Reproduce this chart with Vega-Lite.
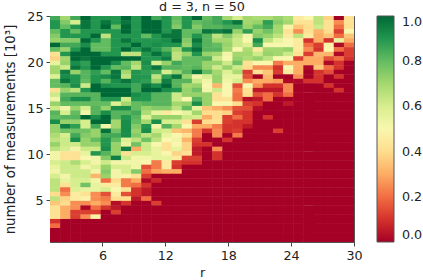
{"$schema":"https://vega.github.io/schema/vega-lite/v6.json","width":304,"height":226,"autosize":{"type":"none"},"padding":{"left":50,"top":16,"right":69,"bottom":38},"background":"white","title":{"text":"d = 3, n = 50","fontSize":12.7,"font":"DejaVu Sans","fontWeight":"normal","color":"#222","anchor":"middle","offset":-4},"config":{"view":{"stroke":"#555","strokeWidth":1}},
"data":{"values":[
{"r":1,"m":25,"v":0.85},{"r":2,"m":25,"v":0.7},{"r":3,"m":25,"v":0.85},{"r":4,"m":25,"v":1},{"r":5,"m":25,"v":0.9},{"r":6,"m":25,"v":0.9},{"r":7,"m":25,"v":0.9},{"r":8,"m":25,"v":1},{"r":9,"m":25,"v":0.9},{"r":10,"m":25,"v":1},{"r":11,"m":25,"v":0.85},{"r":12,"m":25,"v":0.9},{"r":13,"m":25,"v":0.8},{"r":14,"m":25,"v":0.9},{"r":15,"m":25,"v":1},{"r":16,"m":25,"v":0.8},{"r":17,"m":25,"v":0.85},{"r":18,"m":25,"v":0.7},{"r":19,"m":25,"v":0.6},{"r":20,"m":25,"v":0.7},{"r":21,"m":25,"v":0.68},{"r":22,"m":25,"v":0.68},{"r":23,"m":25,"v":0.72},{"r":24,"m":25,"v":0.68},{"r":25,"m":25,"v":0.45},{"r":26,"m":25,"v":0.5},{"r":27,"m":25,"v":0.65},{"r":28,"m":25,"v":0.38},{"r":29,"m":25,"v":0},{"r":30,"m":25,"v":0.42},
{"r":1,"m":24.5,"v":0.9},{"r":2,"m":24.5,"v":0.75},{"r":3,"m":24.5,"v":0.6},{"r":4,"m":24.5,"v":0.97},{"r":5,"m":24.5,"v":0.9},{"r":6,"m":24.5,"v":0.97},{"r":7,"m":24.5,"v":0.9},{"r":8,"m":24.5,"v":0.97},{"r":9,"m":24.5,"v":0.9},{"r":10,"m":24.5,"v":1},{"r":11,"m":24.5,"v":1},{"r":12,"m":24.5,"v":0.9},{"r":13,"m":24.5,"v":0.78},{"r":14,"m":24.5,"v":0.9},{"r":15,"m":24.5,"v":0.8},{"r":16,"m":24.5,"v":0.82},{"r":17,"m":24.5,"v":0.85},{"r":18,"m":24.5,"v":0.9},{"r":19,"m":24.5,"v":0.97},{"r":20,"m":24.5,"v":0.7},{"r":21,"m":24.5,"v":0.72},{"r":22,"m":24.5,"v":0.88},{"r":23,"m":24.5,"v":0.75},{"r":24,"m":24.5,"v":0.7},{"r":25,"m":24.5,"v":0.42},{"r":26,"m":24.5,"v":0.42},{"r":27,"m":24.5,"v":0.65},{"r":28,"m":24.5,"v":0.42},{"r":29,"m":24.5,"v":0.25},{"r":30,"m":24.5,"v":0.42},
{"r":1,"m":24,"v":0.9},{"r":2,"m":24,"v":0.8},{"r":3,"m":24,"v":0.9},{"r":4,"m":24,"v":0.97},{"r":5,"m":24,"v":0.9},{"r":6,"m":24,"v":1},{"r":7,"m":24,"v":0.8},{"r":8,"m":24,"v":1},{"r":9,"m":24,"v":0.9},{"r":10,"m":24,"v":1},{"r":11,"m":24,"v":1},{"r":12,"m":24,"v":0.9},{"r":13,"m":24,"v":0.75},{"r":14,"m":24,"v":0.9},{"r":15,"m":24,"v":0.75},{"r":16,"m":24,"v":0.82},{"r":17,"m":24,"v":0.82},{"r":18,"m":24,"v":0.85},{"r":19,"m":24,"v":0.85},{"r":20,"m":24,"v":0.72},{"r":21,"m":24,"v":0.8},{"r":22,"m":24,"v":0.85},{"r":23,"m":24,"v":0.7},{"r":24,"m":24,"v":0.48},{"r":25,"m":24,"v":0.35},{"r":26,"m":24,"v":0.4},{"r":27,"m":24,"v":0.62},{"r":28,"m":24,"v":0.42},{"r":29,"m":24,"v":0.2},{"r":30,"m":24,"v":0.42},
{"r":1,"m":23.5,"v":0.8},{"r":2,"m":23.5,"v":0.9},{"r":3,"m":23.5,"v":0.8},{"r":4,"m":23.5,"v":0.9},{"r":5,"m":23.5,"v":0.9},{"r":6,"m":23.5,"v":0.9},{"r":7,"m":23.5,"v":0.9},{"r":8,"m":23.5,"v":1},{"r":9,"m":23.5,"v":0.9},{"r":10,"m":23.5,"v":1},{"r":11,"m":23.5,"v":1},{"r":12,"m":23.5,"v":0.9},{"r":13,"m":23.5,"v":0.97},{"r":14,"m":23.5,"v":0.8},{"r":15,"m":23.5,"v":0.8},{"r":16,"m":23.5,"v":0.97},{"r":17,"m":23.5,"v":0.95},{"r":18,"m":23.5,"v":0.98},{"r":19,"m":23.5,"v":0.72},{"r":20,"m":23.5,"v":0.88},{"r":21,"m":23.5,"v":0.72},{"r":22,"m":23.5,"v":0.78},{"r":23,"m":23.5,"v":0.7},{"r":24,"m":23.5,"v":0.42},{"r":25,"m":23.5,"v":0.25},{"r":26,"m":23.5,"v":0.42},{"r":27,"m":23.5,"v":0.32},{"r":28,"m":23.5,"v":0.4},{"r":29,"m":23.5,"v":0.12},{"r":30,"m":23.5,"v":0.5},
{"r":1,"m":23,"v":0.75},{"r":2,"m":23,"v":0.9},{"r":3,"m":23,"v":0.9},{"r":4,"m":23,"v":0.9},{"r":5,"m":23,"v":1},{"r":6,"m":23,"v":0.65},{"r":7,"m":23,"v":0.9},{"r":8,"m":23,"v":0.9},{"r":9,"m":23,"v":0.9},{"r":10,"m":23,"v":0.8},{"r":11,"m":23,"v":0.9},{"r":12,"m":23,"v":0.97},{"r":13,"m":23,"v":0.97},{"r":14,"m":23,"v":0.8},{"r":15,"m":23,"v":0.9},{"r":16,"m":23,"v":0.82},{"r":17,"m":23,"v":0.65},{"r":18,"m":23,"v":0.75},{"r":19,"m":23,"v":0.65},{"r":20,"m":23,"v":0.52},{"r":21,"m":23,"v":0.75},{"r":22,"m":23,"v":0.72},{"r":23,"m":23,"v":0.65},{"r":24,"m":23,"v":0.45},{"r":25,"m":23,"v":0.65},{"r":26,"m":23,"v":0.45},{"r":27,"m":23,"v":0.3},{"r":28,"m":23,"v":0.35},{"r":29,"m":23,"v":0.2},{"r":30,"m":23,"v":0.35},
{"r":1,"m":22.5,"v":0.72},{"r":2,"m":22.5,"v":0.75},{"r":3,"m":22.5,"v":0.75},{"r":4,"m":22.5,"v":1},{"r":5,"m":22.5,"v":0.9},{"r":6,"m":22.5,"v":0.8},{"r":7,"m":22.5,"v":0.9},{"r":8,"m":22.5,"v":0.97},{"r":9,"m":22.5,"v":0.9},{"r":10,"m":22.5,"v":0.9},{"r":11,"m":22.5,"v":0.9},{"r":12,"m":22.5,"v":0.92},{"r":13,"m":22.5,"v":1},{"r":14,"m":22.5,"v":0.75},{"r":15,"m":22.5,"v":0.97},{"r":16,"m":22.5,"v":0.82},{"r":17,"m":22.5,"v":0.7},{"r":18,"m":22.5,"v":0.7},{"r":19,"m":22.5,"v":0.62},{"r":20,"m":22.5,"v":0.5},{"r":21,"m":22.5,"v":0.92},{"r":22,"m":22.5,"v":0.65},{"r":23,"m":22.5,"v":0.55},{"r":24,"m":22.5,"v":0.5},{"r":25,"m":22.5,"v":0.45},{"r":26,"m":22.5,"v":0.1},{"r":27,"m":22.5,"v":0.3},{"r":28,"m":22.5,"v":0.1},{"r":29,"m":22.5,"v":0.55},{"r":30,"m":22.5,"v":0.3},
{"r":1,"m":22,"v":1},{"r":2,"m":22,"v":0.85},{"r":3,"m":22,"v":0.85},{"r":4,"m":22,"v":0.92},{"r":5,"m":22,"v":0.8},{"r":6,"m":22,"v":0.8},{"r":7,"m":22,"v":0.9},{"r":8,"m":22,"v":0.9},{"r":9,"m":22,"v":1},{"r":10,"m":22,"v":0.9},{"r":11,"m":22,"v":0.92},{"r":12,"m":22,"v":0.9},{"r":13,"m":22,"v":0.9},{"r":14,"m":22,"v":0.72},{"r":15,"m":22,"v":0.92},{"r":16,"m":22,"v":0.82},{"r":17,"m":22,"v":0.8},{"r":18,"m":22,"v":0.72},{"r":19,"m":22,"v":0.62},{"r":20,"m":22,"v":0.58},{"r":21,"m":22,"v":0.85},{"r":22,"m":22,"v":0.5},{"r":23,"m":22,"v":0.5},{"r":24,"m":22,"v":0.5},{"r":25,"m":22,"v":0.45},{"r":26,"m":22,"v":0.2},{"r":27,"m":22,"v":0.12},{"r":28,"m":22,"v":0.48},{"r":29,"m":22,"v":0.02},{"r":30,"m":22,"v":0.2},
{"r":1,"m":21.5,"v":0.8},{"r":2,"m":21.5,"v":0.72},{"r":3,"m":21.5,"v":0.9},{"r":4,"m":21.5,"v":1},{"r":5,"m":21.5,"v":0.8},{"r":6,"m":21.5,"v":0.8},{"r":7,"m":21.5,"v":0.9},{"r":8,"m":21.5,"v":1},{"r":9,"m":21.5,"v":0.9},{"r":10,"m":21.5,"v":0.97},{"r":11,"m":21.5,"v":0.9},{"r":12,"m":21.5,"v":0.82},{"r":13,"m":21.5,"v":0.7},{"r":14,"m":21.5,"v":0.9},{"r":15,"m":21.5,"v":0.98},{"r":16,"m":21.5,"v":0.82},{"r":17,"m":21.5,"v":0.82},{"r":18,"m":21.5,"v":0.7},{"r":19,"m":21.5,"v":0.5},{"r":20,"m":21.5,"v":0.68},{"r":21,"m":21.5,"v":0.45},{"r":22,"m":21.5,"v":0.7},{"r":23,"m":21.5,"v":0.7},{"r":24,"m":21.5,"v":0.72},{"r":25,"m":21.5,"v":0.45},{"r":26,"m":21.5,"v":0.25},{"r":27,"m":21.5,"v":0.1},{"r":28,"m":21.5,"v":0.5},{"r":29,"m":21.5,"v":0.2},{"r":30,"m":21.5,"v":0.12},
{"r":1,"m":21,"v":0.42},{"r":2,"m":21,"v":0.9},{"r":3,"m":21,"v":1},{"r":4,"m":21,"v":1},{"r":5,"m":21,"v":1},{"r":6,"m":21,"v":0.9},{"r":7,"m":21,"v":0.9},{"r":8,"m":21,"v":0.65},{"r":9,"m":21,"v":0.65},{"r":10,"m":21,"v":0.9},{"r":11,"m":21,"v":0.98},{"r":12,"m":21,"v":0.9},{"r":13,"m":21,"v":0.65},{"r":14,"m":21,"v":0.72},{"r":15,"m":21,"v":0.9},{"r":16,"m":21,"v":0.72},{"r":17,"m":21,"v":0.7},{"r":18,"m":21,"v":0.52},{"r":19,"m":21,"v":0.7},{"r":20,"m":21,"v":0.7},{"r":21,"m":21,"v":0.62},{"r":22,"m":21,"v":0.72},{"r":23,"m":21,"v":0.7},{"r":24,"m":21,"v":0.62},{"r":25,"m":21,"v":0.42},{"r":26,"m":21,"v":0.12},{"r":27,"m":21,"v":0.32},{"r":28,"m":21,"v":0.32},{"r":29,"m":21,"v":0.02},{"r":30,"m":21,"v":0.12},
{"r":1,"m":20.5,"v":0.38},{"r":2,"m":20.5,"v":0.7},{"r":3,"m":20.5,"v":1},{"r":4,"m":20.5,"v":0.97},{"r":5,"m":20.5,"v":1},{"r":6,"m":20.5,"v":1},{"r":7,"m":20.5,"v":1},{"r":8,"m":20.5,"v":1},{"r":9,"m":20.5,"v":1},{"r":10,"m":20.5,"v":0.9},{"r":11,"m":20.5,"v":0.9},{"r":12,"m":20.5,"v":0.95},{"r":13,"m":20.5,"v":0.65},{"r":14,"m":20.5,"v":0.8},{"r":15,"m":20.5,"v":0.8},{"r":16,"m":20.5,"v":0.82},{"r":17,"m":20.5,"v":0.62},{"r":18,"m":20.5,"v":0.5},{"r":19,"m":20.5,"v":0.72},{"r":20,"m":20.5,"v":0.68},{"r":21,"m":20.5,"v":0.72},{"r":22,"m":20.5,"v":0.65},{"r":23,"m":20.5,"v":0.5},{"r":24,"m":20.5,"v":0.5},{"r":25,"m":20.5,"v":0.12},{"r":26,"m":20.5,"v":0.3},{"r":27,"m":20.5,"v":0.3},{"r":28,"m":20.5,"v":0.15},{"r":29,"m":20.5,"v":0.2},{"r":30,"m":20.5,"v":0.1},
{"r":1,"m":20,"v":0.55},{"r":2,"m":20,"v":0.72},{"r":3,"m":20,"v":0.92},{"r":4,"m":20,"v":0.88},{"r":5,"m":20,"v":1},{"r":6,"m":20,"v":1},{"r":7,"m":20,"v":0.92},{"r":8,"m":20,"v":0.8},{"r":9,"m":20,"v":0.7},{"r":10,"m":20,"v":0.92},{"r":11,"m":20,"v":0.6},{"r":12,"m":20,"v":0.72},{"r":13,"m":20,"v":0.85},{"r":14,"m":20,"v":0.8},{"r":15,"m":20,"v":0.8},{"r":16,"m":20,"v":0.72},{"r":17,"m":20,"v":0.72},{"r":18,"m":20,"v":0.62},{"r":19,"m":20,"v":0.78},{"r":20,"m":20,"v":0.42},{"r":21,"m":20,"v":0.5},{"r":22,"m":20,"v":0.5},{"r":23,"m":20,"v":0.22},{"r":24,"m":20,"v":0.3},{"r":25,"m":20,"v":0.3},{"r":26,"m":20,"v":0.3},{"r":27,"m":20,"v":0.3},{"r":28,"m":20,"v":0.02},{"r":29,"m":20,"v":0.1},{"r":30,"m":20,"v":0},
{"r":1,"m":19.5,"v":0.7},{"r":2,"m":19.5,"v":0.62},{"r":3,"m":19.5,"v":0.97},{"r":4,"m":19.5,"v":0.9},{"r":5,"m":19.5,"v":1},{"r":6,"m":19.5,"v":0.9},{"r":7,"m":19.5,"v":0.8},{"r":8,"m":19.5,"v":0.82},{"r":9,"m":19.5,"v":0.65},{"r":10,"m":19.5,"v":0.9},{"r":11,"m":19.5,"v":0.97},{"r":12,"m":19.5,"v":0.82},{"r":13,"m":19.5,"v":0.82},{"r":14,"m":19.5,"v":0.8},{"r":15,"m":19.5,"v":0.82},{"r":16,"m":19.5,"v":0.72},{"r":17,"m":19.5,"v":0.62},{"r":18,"m":19.5,"v":0.72},{"r":19,"m":19.5,"v":0.62},{"r":20,"m":19.5,"v":0.4},{"r":21,"m":19.5,"v":0.25},{"r":22,"m":19.5,"v":0.25},{"r":23,"m":19.5,"v":0.1},{"r":24,"m":19.5,"v":0.5},{"r":25,"m":19.5,"v":0.3},{"r":26,"m":19.5,"v":0.02},{"r":27,"m":19.5,"v":0.35},{"r":28,"m":19.5,"v":0.2},{"r":29,"m":19.5,"v":0.1},{"r":30,"m":19.5,"v":0},
{"r":1,"m":19,"v":0.7},{"r":2,"m":19,"v":0.95},{"r":3,"m":19,"v":0.72},{"r":4,"m":19,"v":0.82},{"r":5,"m":19,"v":0.88},{"r":6,"m":19,"v":0.8},{"r":7,"m":19,"v":0.97},{"r":8,"m":19,"v":0.7},{"r":9,"m":19,"v":0.9},{"r":10,"m":19,"v":0.88},{"r":11,"m":19,"v":0.85},{"r":12,"m":19,"v":0.6},{"r":13,"m":19,"v":0.72},{"r":14,"m":19,"v":0.82},{"r":15,"m":19,"v":0.97},{"r":16,"m":19,"v":0.8},{"r":17,"m":19,"v":0.7},{"r":18,"m":19,"v":0.58},{"r":19,"m":19,"v":0.68},{"r":20,"m":19,"v":0.12},{"r":21,"m":19,"v":0.42},{"r":22,"m":19,"v":0.35},{"r":23,"m":19,"v":0.12},{"r":24,"m":19,"v":0.45},{"r":25,"m":19,"v":0.3},{"r":26,"m":19,"v":0},{"r":27,"m":19,"v":0.1},{"r":28,"m":19,"v":0.15},{"r":29,"m":19,"v":0},{"r":30,"m":19,"v":0},
{"r":1,"m":18.5,"v":0.58},{"r":2,"m":18.5,"v":0.92},{"r":3,"m":18.5,"v":0.9},{"r":4,"m":18.5,"v":0.82},{"r":5,"m":18.5,"v":0.9},{"r":6,"m":18.5,"v":0.92},{"r":7,"m":18.5,"v":0.97},{"r":8,"m":18.5,"v":0.65},{"r":9,"m":18.5,"v":0.9},{"r":10,"m":18.5,"v":0.9},{"r":11,"m":18.5,"v":0.65},{"r":12,"m":18.5,"v":0.88},{"r":13,"m":18.5,"v":0.97},{"r":14,"m":18.5,"v":0.72},{"r":15,"m":18.5,"v":0.52},{"r":16,"m":18.5,"v":0.6},{"r":17,"m":18.5,"v":0.72},{"r":18,"m":18.5,"v":0.55},{"r":19,"m":18.5,"v":0.55},{"r":20,"m":18.5,"v":0.15},{"r":21,"m":18.5,"v":0},{"r":22,"m":18.5,"v":0.32},{"r":23,"m":18.5,"v":0},{"r":24,"m":18.5,"v":0},{"r":25,"m":18.5,"v":0.25},{"r":26,"m":18.5,"v":0},{"r":27,"m":18.5,"v":0.1},{"r":28,"m":18.5,"v":0},{"r":29,"m":18.5,"v":0.1},{"r":30,"m":18.5,"v":0},
{"r":1,"m":18,"v":0.8},{"r":2,"m":18,"v":0.97},{"r":3,"m":18,"v":0.9},{"r":4,"m":18,"v":0.8},{"r":5,"m":18,"v":0.9},{"r":6,"m":18,"v":0.82},{"r":7,"m":18,"v":0.92},{"r":8,"m":18,"v":0.97},{"r":9,"m":18,"v":0.9},{"r":10,"m":18,"v":0.88},{"r":11,"m":18,"v":0.72},{"r":12,"m":18,"v":0.95},{"r":13,"m":18,"v":0.82},{"r":14,"m":18,"v":0.82},{"r":15,"m":18,"v":0.62},{"r":16,"m":18,"v":0.52},{"r":17,"m":18,"v":0.72},{"r":18,"m":18,"v":0.52},{"r":19,"m":18,"v":0.6},{"r":20,"m":18,"v":0.25},{"r":21,"m":18,"v":0.3},{"r":22,"m":18,"v":0.3},{"r":23,"m":18,"v":0.28},{"r":24,"m":18,"v":0.02},{"r":25,"m":18,"v":0.02},{"r":26,"m":18,"v":0.1},{"r":27,"m":18,"v":0.1},{"r":28,"m":18,"v":0},{"r":29,"m":18,"v":0},{"r":30,"m":18,"v":0},
{"r":1,"m":17.5,"v":0.8},{"r":2,"m":17.5,"v":0.82},{"r":3,"m":17.5,"v":0.92},{"r":4,"m":17.5,"v":0.62},{"r":5,"m":17.5,"v":1},{"r":6,"m":17.5,"v":0.92},{"r":7,"m":17.5,"v":0.9},{"r":8,"m":17.5,"v":0.9},{"r":9,"m":17.5,"v":0.85},{"r":10,"m":17.5,"v":0.97},{"r":11,"m":17.5,"v":0.92},{"r":12,"m":17.5,"v":1},{"r":13,"m":17.5,"v":0.82},{"r":14,"m":17.5,"v":0.7},{"r":15,"m":17.5,"v":0.72},{"r":16,"m":17.5,"v":0.5},{"r":17,"m":17.5,"v":0.32},{"r":18,"m":17.5,"v":0.5},{"r":19,"m":17.5,"v":0.15},{"r":20,"m":17.5,"v":0.5},{"r":21,"m":17.5,"v":0.25},{"r":22,"m":17.5,"v":0.1},{"r":23,"m":17.5,"v":0.1},{"r":24,"m":17.5,"v":0.25},{"r":25,"m":17.5,"v":0},{"r":26,"m":17.5,"v":0},{"r":27,"m":17.5,"v":0},{"r":28,"m":17.5,"v":0.1},{"r":29,"m":17.5,"v":0},{"r":30,"m":17.5,"v":0},
{"r":1,"m":17,"v":0.42},{"r":2,"m":17,"v":0.72},{"r":3,"m":17,"v":0.65},{"r":4,"m":17,"v":0.9},{"r":5,"m":17,"v":1},{"r":6,"m":17,"v":1},{"r":7,"m":17,"v":1},{"r":8,"m":17,"v":1},{"r":9,"m":17,"v":0.85},{"r":10,"m":17,"v":1},{"r":11,"m":17,"v":1},{"r":12,"m":17,"v":0.92},{"r":13,"m":17,"v":0.9},{"r":14,"m":17,"v":0.72},{"r":15,"m":17,"v":0.78},{"r":16,"m":17,"v":0.52},{"r":17,"m":17,"v":0.62},{"r":18,"m":17,"v":0.5},{"r":19,"m":17,"v":0.22},{"r":20,"m":17,"v":0.42},{"r":21,"m":17,"v":0.05},{"r":22,"m":17,"v":0.05},{"r":23,"m":17,"v":0.05},{"r":24,"m":17,"v":0.25},{"r":25,"m":17,"v":0},{"r":26,"m":17,"v":0},{"r":27,"m":17,"v":0},{"r":28,"m":17,"v":0},{"r":29,"m":17,"v":0.1},{"r":30,"m":17,"v":0},
{"r":1,"m":16.5,"v":0.62},{"r":2,"m":16.5,"v":0.82},{"r":3,"m":16.5,"v":0.82},{"r":4,"m":16.5,"v":0.82},{"r":5,"m":16.5,"v":0.82},{"r":6,"m":16.5,"v":1},{"r":7,"m":16.5,"v":1},{"r":8,"m":16.5,"v":1},{"r":9,"m":16.5,"v":0.92},{"r":10,"m":16.5,"v":0.9},{"r":11,"m":16.5,"v":0.82},{"r":12,"m":16.5,"v":0.82},{"r":13,"m":16.5,"v":0.62},{"r":14,"m":16.5,"v":0.72},{"r":15,"m":16.5,"v":0.72},{"r":16,"m":16.5,"v":0.72},{"r":17,"m":16.5,"v":0.42},{"r":18,"m":16.5,"v":0.5},{"r":19,"m":16.5,"v":0.2},{"r":20,"m":16.5,"v":0.4},{"r":21,"m":16.5,"v":0.15},{"r":22,"m":16.5,"v":0.2},{"r":23,"m":16.5,"v":0.1},{"r":24,"m":16.5,"v":0.2},{"r":25,"m":16.5,"v":0},{"r":26,"m":16.5,"v":0},{"r":27,"m":16.5,"v":0},{"r":28,"m":16.5,"v":0},{"r":29,"m":16.5,"v":0},{"r":30,"m":16.5,"v":0},
{"r":1,"m":16,"v":0.52},{"r":2,"m":16,"v":0.85},{"r":3,"m":16,"v":0.92},{"r":4,"m":16,"v":0.92},{"r":5,"m":16,"v":0.82},{"r":6,"m":16,"v":0.9},{"r":7,"m":16,"v":0.9},{"r":8,"m":16,"v":0.62},{"r":9,"m":16,"v":0.9},{"r":10,"m":16,"v":0.9},{"r":11,"m":16,"v":0.82},{"r":12,"m":16,"v":0.82},{"r":13,"m":16,"v":0.62},{"r":14,"m":16,"v":0.5},{"r":15,"m":16,"v":0.82},{"r":16,"m":16,"v":0.72},{"r":17,"m":16,"v":0.42},{"r":18,"m":16,"v":0.42},{"r":19,"m":16,"v":0.2},{"r":20,"m":16,"v":0.03},{"r":21,"m":16,"v":0.05},{"r":22,"m":16,"v":0.2},{"r":23,"m":16,"v":0},{"r":24,"m":16,"v":0},{"r":25,"m":16,"v":0},{"r":26,"m":16,"v":0},{"r":27,"m":16,"v":0},{"r":28,"m":16,"v":0},{"r":29,"m":16,"v":0},{"r":30,"m":16,"v":0},
{"r":1,"m":15.5,"v":0.72},{"r":2,"m":15.5,"v":0.8},{"r":3,"m":15.5,"v":0.8},{"r":4,"m":15.5,"v":0.8},{"r":5,"m":15.5,"v":0.8},{"r":6,"m":15.5,"v":0.8},{"r":7,"m":15.5,"v":0.58},{"r":8,"m":15.5,"v":0.7},{"r":9,"m":15.5,"v":0.8},{"r":10,"m":15.5,"v":0.82},{"r":11,"m":15.5,"v":0.82},{"r":12,"m":15.5,"v":0.82},{"r":13,"m":15.5,"v":0.7},{"r":14,"m":15.5,"v":0.72},{"r":15,"m":15.5,"v":0.92},{"r":16,"m":15.5,"v":0.72},{"r":17,"m":15.5,"v":0.5},{"r":18,"m":15.5,"v":0.5},{"r":19,"m":15.5,"v":0.4},{"r":20,"m":15.5,"v":0.12},{"r":21,"m":15.5,"v":0.1},{"r":22,"m":15.5,"v":0},{"r":23,"m":15.5,"v":0},{"r":24,"m":15.5,"v":0.05},{"r":25,"m":15.5,"v":0},{"r":26,"m":15.5,"v":0},{"r":27,"m":15.5,"v":0},{"r":28,"m":15.5,"v":0},{"r":29,"m":15.5,"v":0},{"r":30,"m":15.5,"v":0},
{"r":1,"m":15,"v":0.62},{"r":2,"m":15,"v":0.52},{"r":3,"m":15,"v":0.72},{"r":4,"m":15,"v":0.6},{"r":5,"m":15,"v":0.82},{"r":6,"m":15,"v":0.72},{"r":7,"m":15,"v":0.92},{"r":8,"m":15,"v":0.92},{"r":9,"m":15,"v":0.8},{"r":10,"m":15,"v":0.72},{"r":11,"m":15,"v":0.75},{"r":12,"m":15,"v":0.75},{"r":13,"m":15,"v":0.65},{"r":14,"m":15,"v":0.8},{"r":15,"m":15,"v":0.55},{"r":16,"m":15,"v":0.35},{"r":17,"m":15,"v":0.3},{"r":18,"m":15,"v":0.25},{"r":19,"m":15,"v":0.15},{"r":20,"m":15,"v":0.15},{"r":21,"m":15,"v":0.03},{"r":22,"m":15,"v":0},{"r":23,"m":15,"v":0},{"r":24,"m":15,"v":0},{"r":25,"m":15,"v":0},{"r":26,"m":15,"v":0},{"r":27,"m":15,"v":0},{"r":28,"m":15,"v":0},{"r":29,"m":15,"v":0},{"r":30,"m":15,"v":0},
{"r":1,"m":14.5,"v":0.82},{"r":2,"m":14.5,"v":0.6},{"r":3,"m":14.5,"v":0.8},{"r":4,"m":14.5,"v":0.52},{"r":5,"m":14.5,"v":0.82},{"r":6,"m":14.5,"v":0.92},{"r":7,"m":14.5,"v":0.82},{"r":8,"m":14.5,"v":0.82},{"r":9,"m":14.5,"v":0.85},{"r":10,"m":14.5,"v":0.68},{"r":11,"m":14.5,"v":0.55},{"r":12,"m":14.5,"v":0.45},{"r":13,"m":14.5,"v":0.5},{"r":14,"m":14.5,"v":0.55},{"r":15,"m":14.5,"v":0.7},{"r":16,"m":14.5,"v":0.4},{"r":17,"m":14.5,"v":0.4},{"r":18,"m":14.5,"v":0.38},{"r":19,"m":14.5,"v":0.12},{"r":20,"m":14.5,"v":0.1},{"r":21,"m":14.5,"v":0},{"r":22,"m":14.5,"v":0},{"r":23,"m":14.5,"v":0},{"r":24,"m":14.5,"v":0},{"r":25,"m":14.5,"v":0},{"r":26,"m":14.5,"v":0},{"r":27,"m":14.5,"v":0},{"r":28,"m":14.5,"v":0},{"r":29,"m":14.5,"v":0},{"r":30,"m":14.5,"v":0},
{"r":1,"m":14,"v":0.8},{"r":2,"m":14,"v":0.82},{"r":3,"m":14,"v":0.82},{"r":4,"m":14,"v":1},{"r":5,"m":14,"v":0.92},{"r":6,"m":14,"v":1},{"r":7,"m":14,"v":0.82},{"r":8,"m":14,"v":0.9},{"r":9,"m":14,"v":0.82},{"r":10,"m":14,"v":0.58},{"r":11,"m":14,"v":0.72},{"r":12,"m":14,"v":0.72},{"r":13,"m":14,"v":0.72},{"r":14,"m":14,"v":0.62},{"r":15,"m":14,"v":0.6},{"r":16,"m":14,"v":0.3},{"r":17,"m":14,"v":0.4},{"r":18,"m":14,"v":0.12},{"r":19,"m":14,"v":0.2},{"r":20,"m":14,"v":0.1},{"r":21,"m":14,"v":0},{"r":22,"m":14,"v":0.1},{"r":23,"m":14,"v":0},{"r":24,"m":14,"v":0},{"r":25,"m":14,"v":0},{"r":26,"m":14,"v":0},{"r":27,"m":14,"v":0},{"r":28,"m":14,"v":0},{"r":29,"m":14,"v":0},{"r":30,"m":14,"v":0},
{"r":1,"m":13.5,"v":0.92},{"r":2,"m":13.5,"v":0.72},{"r":3,"m":13.5,"v":0.72},{"r":4,"m":13.5,"v":0.6},{"r":5,"m":13.5,"v":1},{"r":6,"m":13.5,"v":1},{"r":7,"m":13.5,"v":0.7},{"r":8,"m":13.5,"v":0.92},{"r":9,"m":13.5,"v":0.8},{"r":10,"m":13.5,"v":0.7},{"r":11,"m":13.5,"v":0.92},{"r":12,"m":13.5,"v":0.6},{"r":13,"m":13.5,"v":0.6},{"r":14,"m":13.5,"v":0.42},{"r":15,"m":13.5,"v":0.12},{"r":16,"m":13.5,"v":0.4},{"r":17,"m":13.5,"v":0.42},{"r":18,"m":13.5,"v":0.12},{"r":19,"m":13.5,"v":0.1},{"r":20,"m":13.5,"v":0.1},{"r":21,"m":13.5,"v":0},{"r":22,"m":13.5,"v":0},{"r":23,"m":13.5,"v":0},{"r":24,"m":13.5,"v":0},{"r":25,"m":13.5,"v":0},{"r":26,"m":13.5,"v":0},{"r":27,"m":13.5,"v":0},{"r":28,"m":13.5,"v":0},{"r":29,"m":13.5,"v":0},{"r":30,"m":13.5,"v":0},
{"r":1,"m":13,"v":0.72},{"r":2,"m":13,"v":0.95},{"r":3,"m":13,"v":0.88},{"r":4,"m":13,"v":0.6},{"r":5,"m":13,"v":0.85},{"r":6,"m":13,"v":0.52},{"r":7,"m":13,"v":0.7},{"r":8,"m":13,"v":0.92},{"r":9,"m":13,"v":0.75},{"r":10,"m":13,"v":0.9},{"r":11,"m":13,"v":0.52},{"r":12,"m":13,"v":0.82},{"r":13,"m":13,"v":0.7},{"r":14,"m":13,"v":0.5},{"r":15,"m":13,"v":0.3},{"r":16,"m":13,"v":0.3},{"r":17,"m":13,"v":0.22},{"r":18,"m":13,"v":0.1},{"r":19,"m":13,"v":0.1},{"r":20,"m":13,"v":0.05},{"r":21,"m":13,"v":0},{"r":22,"m":13,"v":0},{"r":23,"m":13,"v":0},{"r":24,"m":13,"v":0},{"r":25,"m":13,"v":0},{"r":26,"m":13,"v":0},{"r":27,"m":13,"v":0},{"r":28,"m":13,"v":0},{"r":29,"m":13,"v":0},{"r":30,"m":13,"v":0},
{"r":1,"m":12.5,"v":0.72},{"r":2,"m":12.5,"v":0.78},{"r":3,"m":12.5,"v":0.78},{"r":4,"m":12.5,"v":0.78},{"r":5,"m":12.5,"v":0.72},{"r":6,"m":12.5,"v":0.98},{"r":7,"m":12.5,"v":0.78},{"r":8,"m":12.5,"v":0.92},{"r":9,"m":12.5,"v":0.72},{"r":10,"m":12.5,"v":0.92},{"r":11,"m":12.5,"v":0.62},{"r":12,"m":12.5,"v":0.6},{"r":13,"m":12.5,"v":0.35},{"r":14,"m":12.5,"v":0.32},{"r":15,"m":12.5,"v":0.22},{"r":16,"m":12.5,"v":0.1},{"r":17,"m":12.5,"v":0.25},{"r":18,"m":12.5,"v":0.1},{"r":19,"m":12.5,"v":0.12},{"r":20,"m":12.5,"v":0},{"r":21,"m":12.5,"v":0},{"r":22,"m":12.5,"v":0},{"r":23,"m":12.5,"v":0.12},{"r":24,"m":12.5,"v":0},{"r":25,"m":12.5,"v":0},{"r":26,"m":12.5,"v":0},{"r":27,"m":12.5,"v":0},{"r":28,"m":12.5,"v":0},{"r":29,"m":12.5,"v":0},{"r":30,"m":12.5,"v":0},
{"r":1,"m":12,"v":0.68},{"r":2,"m":12,"v":0.6},{"r":3,"m":12,"v":0.85},{"r":4,"m":12,"v":0.75},{"r":5,"m":12,"v":0.72},{"r":6,"m":12,"v":0.85},{"r":7,"m":12,"v":0.85},{"r":8,"m":12,"v":0.92},{"r":9,"m":12,"v":0.75},{"r":10,"m":12,"v":0.65},{"r":11,"m":12,"v":0.7},{"r":12,"m":12,"v":0.55},{"r":13,"m":12,"v":0.5},{"r":14,"m":12,"v":0.42},{"r":15,"m":12,"v":0.22},{"r":16,"m":12,"v":0},{"r":17,"m":12,"v":0.25},{"r":18,"m":12,"v":0},{"r":19,"m":12,"v":0.22},{"r":20,"m":12,"v":0},{"r":21,"m":12,"v":0},{"r":22,"m":12,"v":0},{"r":23,"m":12,"v":0},{"r":24,"m":12,"v":0},{"r":25,"m":12,"v":0},{"r":26,"m":12,"v":0},{"r":27,"m":12,"v":0},{"r":28,"m":12,"v":0},{"r":29,"m":12,"v":0},{"r":30,"m":12,"v":0},
{"r":1,"m":11.5,"v":0.65},{"r":2,"m":11.5,"v":0.62},{"r":3,"m":11.5,"v":0.92},{"r":4,"m":11.5,"v":0.72},{"r":5,"m":11.5,"v":0.8},{"r":6,"m":11.5,"v":0.9},{"r":7,"m":11.5,"v":0.8},{"r":8,"m":11.5,"v":0.58},{"r":9,"m":11.5,"v":0.65},{"r":10,"m":11.5,"v":0.78},{"r":11,"m":11.5,"v":0.65},{"r":12,"m":11.5,"v":0.5},{"r":13,"m":11.5,"v":0.52},{"r":14,"m":11.5,"v":0.32},{"r":15,"m":11.5,"v":0.12},{"r":16,"m":11.5,"v":0},{"r":17,"m":11.5,"v":0},{"r":18,"m":11.5,"v":0.1},{"r":19,"m":11.5,"v":0},{"r":20,"m":11.5,"v":0},{"r":21,"m":11.5,"v":0},{"r":22,"m":11.5,"v":0},{"r":23,"m":11.5,"v":0},{"r":24,"m":11.5,"v":0},{"r":25,"m":11.5,"v":0},{"r":26,"m":11.5,"v":0},{"r":27,"m":11.5,"v":0},{"r":28,"m":11.5,"v":0},{"r":29,"m":11.5,"v":0},{"r":30,"m":11.5,"v":0},
{"r":1,"m":11,"v":0.72},{"r":2,"m":11,"v":0.62},{"r":3,"m":11,"v":0.62},{"r":4,"m":11,"v":0.72},{"r":5,"m":11,"v":0.72},{"r":6,"m":11,"v":0.9},{"r":7,"m":11,"v":0.72},{"r":8,"m":11,"v":0.55},{"r":9,"m":11,"v":0.78},{"r":10,"m":11,"v":0.62},{"r":11,"m":11,"v":0.5},{"r":12,"m":11,"v":0.42},{"r":13,"m":11,"v":0.5},{"r":14,"m":11,"v":0.38},{"r":15,"m":11,"v":0.1},{"r":16,"m":11,"v":0.1},{"r":17,"m":11,"v":0},{"r":18,"m":11,"v":0},{"r":19,"m":11,"v":0},{"r":20,"m":11,"v":0},{"r":21,"m":11,"v":0},{"r":22,"m":11,"v":0},{"r":23,"m":11,"v":0},{"r":24,"m":11,"v":0},{"r":25,"m":11,"v":0},{"r":26,"m":11,"v":0},{"r":27,"m":11,"v":0},{"r":28,"m":11,"v":0},{"r":29,"m":11,"v":0},{"r":30,"m":11,"v":0},
{"r":1,"m":10.5,"v":0.65},{"r":2,"m":10.5,"v":0.6},{"r":3,"m":10.5,"v":0.52},{"r":4,"m":10.5,"v":0.62},{"r":5,"m":10.5,"v":0.62},{"r":6,"m":10.5,"v":0.92},{"r":7,"m":10.5,"v":0.72},{"r":8,"m":10.5,"v":0.95},{"r":9,"m":10.5,"v":0.3},{"r":10,"m":10.5,"v":0.62},{"r":11,"m":10.5,"v":0.55},{"r":12,"m":10.5,"v":0.42},{"r":13,"m":10.5,"v":0.55},{"r":14,"m":10.5,"v":0.38},{"r":15,"m":10.5,"v":0.05},{"r":16,"m":10.5,"v":0},{"r":17,"m":10.5,"v":0.25},{"r":18,"m":10.5,"v":0},{"r":19,"m":10.5,"v":0},{"r":20,"m":10.5,"v":0},{"r":21,"m":10.5,"v":0},{"r":22,"m":10.5,"v":0},{"r":23,"m":10.5,"v":0},{"r":24,"m":10.5,"v":0},{"r":25,"m":10.5,"v":0},{"r":26,"m":10.5,"v":0},{"r":27,"m":10.5,"v":0},{"r":28,"m":10.5,"v":0},{"r":29,"m":10.5,"v":0},{"r":30,"m":10.5,"v":0},
{"r":1,"m":10,"v":0.52},{"r":2,"m":10,"v":0.42},{"r":3,"m":10,"v":0.42},{"r":4,"m":10,"v":0.55},{"r":5,"m":10,"v":0.9},{"r":6,"m":10,"v":0.82},{"r":7,"m":10,"v":0.72},{"r":8,"m":10,"v":0.42},{"r":9,"m":10,"v":0.6},{"r":10,"m":10,"v":0.6},{"r":11,"m":10,"v":0.55},{"r":12,"m":10,"v":0.5},{"r":13,"m":10,"v":0.38},{"r":14,"m":10,"v":0.42},{"r":15,"m":10,"v":0.05},{"r":16,"m":10,"v":0},{"r":17,"m":10,"v":0.1},{"r":18,"m":10,"v":0},{"r":19,"m":10,"v":0},{"r":20,"m":10,"v":0},{"r":21,"m":10,"v":0},{"r":22,"m":10,"v":0},{"r":23,"m":10,"v":0},{"r":24,"m":10,"v":0},{"r":25,"m":10,"v":0},{"r":26,"m":10,"v":0},{"r":27,"m":10,"v":0},{"r":28,"m":10,"v":0},{"r":29,"m":10,"v":0},{"r":30,"m":10,"v":0},
{"r":1,"m":9.5,"v":0.52},{"r":2,"m":9.5,"v":0.42},{"r":3,"m":9.5,"v":0.42},{"r":4,"m":9.5,"v":0.5},{"r":5,"m":9.5,"v":0.52},{"r":6,"m":9.5,"v":0.75},{"r":7,"m":9.5,"v":0.95},{"r":8,"m":9.5,"v":0.62},{"r":9,"m":9.5,"v":0.52},{"r":10,"m":9.5,"v":0.52},{"r":11,"m":9.5,"v":0.55},{"r":12,"m":9.5,"v":0.55},{"r":13,"m":9.5,"v":0.45},{"r":14,"m":9.5,"v":0.12},{"r":15,"m":9.5,"v":0.12},{"r":16,"m":9.5,"v":0},{"r":17,"m":9.5,"v":0.1},{"r":18,"m":9.5,"v":0},{"r":19,"m":9.5,"v":0},{"r":20,"m":9.5,"v":0},{"r":21,"m":9.5,"v":0},{"r":22,"m":9.5,"v":0},{"r":23,"m":9.5,"v":0},{"r":24,"m":9.5,"v":0},{"r":25,"m":9.5,"v":0},{"r":26,"m":9.5,"v":0},{"r":27,"m":9.5,"v":0},{"r":28,"m":9.5,"v":0},{"r":29,"m":9.5,"v":0},{"r":30,"m":9.5,"v":0},
{"r":1,"m":9,"v":0.6},{"r":2,"m":9,"v":0.62},{"r":3,"m":9,"v":0.68},{"r":4,"m":9,"v":0.6},{"r":5,"m":9,"v":0.52},{"r":6,"m":9,"v":0.62},{"r":7,"m":9,"v":0.52},{"r":8,"m":9,"v":0.52},{"r":9,"m":9,"v":0.52},{"r":10,"m":9,"v":0.5},{"r":11,"m":9,"v":0.22},{"r":12,"m":9,"v":0.45},{"r":13,"m":9,"v":0.12},{"r":14,"m":9,"v":0.1},{"r":15,"m":9,"v":0.1},{"r":16,"m":9,"v":0},{"r":17,"m":9,"v":0},{"r":18,"m":9,"v":0},{"r":19,"m":9,"v":0},{"r":20,"m":9,"v":0},{"r":21,"m":9,"v":0},{"r":22,"m":9,"v":0},{"r":23,"m":9,"v":0},{"r":24,"m":9,"v":0},{"r":25,"m":9,"v":0},{"r":26,"m":9,"v":0},{"r":27,"m":9,"v":0},{"r":28,"m":9,"v":0},{"r":29,"m":9,"v":0},{"r":30,"m":9,"v":0},
{"r":1,"m":8.5,"v":0.55},{"r":2,"m":8.5,"v":0.62},{"r":3,"m":8.5,"v":0.62},{"r":4,"m":8.5,"v":0.52},{"r":5,"m":8.5,"v":0.58},{"r":6,"m":8.5,"v":0.72},{"r":7,"m":8.5,"v":0.6},{"r":8,"m":8.5,"v":0.6},{"r":9,"m":8.5,"v":0.52},{"r":10,"m":8.5,"v":0.15},{"r":11,"m":8.5,"v":0.22},{"r":12,"m":8.5,"v":0.45},{"r":13,"m":8.5,"v":0.1},{"r":14,"m":8.5,"v":0},{"r":15,"m":8.5,"v":0},{"r":16,"m":8.5,"v":0},{"r":17,"m":8.5,"v":0},{"r":18,"m":8.5,"v":0},{"r":19,"m":8.5,"v":0},{"r":20,"m":8.5,"v":0},{"r":21,"m":8.5,"v":0},{"r":22,"m":8.5,"v":0},{"r":23,"m":8.5,"v":0},{"r":24,"m":8.5,"v":0},{"r":25,"m":8.5,"v":0},{"r":26,"m":8.5,"v":0},{"r":27,"m":8.5,"v":0},{"r":28,"m":8.5,"v":0},{"r":29,"m":8.5,"v":0},{"r":30,"m":8.5,"v":0},
{"r":1,"m":8,"v":0.52},{"r":2,"m":8,"v":0.62},{"r":3,"m":8,"v":0.62},{"r":4,"m":8,"v":0.62},{"r":5,"m":8,"v":0.52},{"r":6,"m":8,"v":0.75},{"r":7,"m":8,"v":0.52},{"r":8,"m":8,"v":0.6},{"r":9,"m":8,"v":0.75},{"r":10,"m":8,"v":0.2},{"r":11,"m":8,"v":0.28},{"r":12,"m":8,"v":0.3},{"r":13,"m":8,"v":0.3},{"r":14,"m":8,"v":0},{"r":15,"m":8,"v":0},{"r":16,"m":8,"v":0},{"r":17,"m":8,"v":0},{"r":18,"m":8,"v":0},{"r":19,"m":8,"v":0},{"r":20,"m":8,"v":0},{"r":21,"m":8,"v":0},{"r":22,"m":8,"v":0},{"r":23,"m":8,"v":0},{"r":24,"m":8,"v":0},{"r":25,"m":8,"v":0},{"r":26,"m":8,"v":0},{"r":27,"m":8,"v":0},{"r":28,"m":8,"v":0},{"r":29,"m":8,"v":0},{"r":30,"m":8,"v":0},
{"r":1,"m":7.5,"v":0.6},{"r":2,"m":7.5,"v":0.52},{"r":3,"m":7.5,"v":0.62},{"r":4,"m":7.5,"v":0.62},{"r":5,"m":7.5,"v":0.32},{"r":6,"m":7.5,"v":0.72},{"r":7,"m":7.5,"v":0.52},{"r":8,"m":7.5,"v":0.48},{"r":9,"m":7.5,"v":0.42},{"r":10,"m":7.5,"v":0.12},{"r":11,"m":7.5,"v":0},{"r":12,"m":7.5,"v":0},{"r":13,"m":7.5,"v":0},{"r":14,"m":7.5,"v":0},{"r":15,"m":7.5,"v":0},{"r":16,"m":7.5,"v":0},{"r":17,"m":7.5,"v":0},{"r":18,"m":7.5,"v":0},{"r":19,"m":7.5,"v":0},{"r":20,"m":7.5,"v":0},{"r":21,"m":7.5,"v":0},{"r":22,"m":7.5,"v":0},{"r":23,"m":7.5,"v":0},{"r":24,"m":7.5,"v":0},{"r":25,"m":7.5,"v":0},{"r":26,"m":7.5,"v":0},{"r":27,"m":7.5,"v":0},{"r":28,"m":7.5,"v":0},{"r":29,"m":7.5,"v":0},{"r":30,"m":7.5,"v":0},
{"r":1,"m":7,"v":0.65},{"r":2,"m":7,"v":0.55},{"r":3,"m":7,"v":0.6},{"r":4,"m":7,"v":0.6},{"r":5,"m":7,"v":0.52},{"r":6,"m":7,"v":0.2},{"r":7,"m":7,"v":0.4},{"r":8,"m":7,"v":0.22},{"r":9,"m":7,"v":0.3},{"r":10,"m":7,"v":0.02},{"r":11,"m":7,"v":0.08},{"r":12,"m":7,"v":0},{"r":13,"m":7,"v":0},{"r":14,"m":7,"v":0},{"r":15,"m":7,"v":0},{"r":16,"m":7,"v":0},{"r":17,"m":7,"v":0},{"r":18,"m":7,"v":0},{"r":19,"m":7,"v":0},{"r":20,"m":7,"v":0},{"r":21,"m":7,"v":0},{"r":22,"m":7,"v":0},{"r":23,"m":7,"v":0},{"r":24,"m":7,"v":0},{"r":25,"m":7,"v":0},{"r":26,"m":7,"v":0},{"r":27,"m":7,"v":0},{"r":28,"m":7,"v":0},{"r":29,"m":7,"v":0},{"r":30,"m":7,"v":0},
{"r":1,"m":6.5,"v":0.65},{"r":2,"m":6.5,"v":0.42},{"r":3,"m":6.5,"v":0.6},{"r":4,"m":6.5,"v":0.78},{"r":5,"m":6.5,"v":0.55},{"r":6,"m":6.5,"v":0.45},{"r":7,"m":6.5,"v":0.45},{"r":8,"m":6.5,"v":0.22},{"r":9,"m":6.5,"v":0.2},{"r":10,"m":6.5,"v":0.1},{"r":11,"m":6.5,"v":0},{"r":12,"m":6.5,"v":0},{"r":13,"m":6.5,"v":0},{"r":14,"m":6.5,"v":0},{"r":15,"m":6.5,"v":0},{"r":16,"m":6.5,"v":0},{"r":17,"m":6.5,"v":0},{"r":18,"m":6.5,"v":0},{"r":19,"m":6.5,"v":0},{"r":20,"m":6.5,"v":0},{"r":21,"m":6.5,"v":0},{"r":22,"m":6.5,"v":0},{"r":23,"m":6.5,"v":0},{"r":24,"m":6.5,"v":0},{"r":25,"m":6.5,"v":0},{"r":26,"m":6.5,"v":0},{"r":27,"m":6.5,"v":0},{"r":28,"m":6.5,"v":0},{"r":29,"m":6.5,"v":0},{"r":30,"m":6.5,"v":0},
{"r":1,"m":6,"v":0.65},{"r":2,"m":6,"v":0.2},{"r":3,"m":6,"v":0.58},{"r":4,"m":6,"v":0.55},{"r":5,"m":6,"v":0.55},{"r":6,"m":6,"v":0.6},{"r":7,"m":6,"v":0.5},{"r":8,"m":6,"v":0.42},{"r":9,"m":6,"v":0.1},{"r":10,"m":6,"v":0.05},{"r":11,"m":6,"v":0},{"r":12,"m":6,"v":0},{"r":13,"m":6,"v":0},{"r":14,"m":6,"v":0},{"r":15,"m":6,"v":0},{"r":16,"m":6,"v":0},{"r":17,"m":6,"v":0},{"r":18,"m":6,"v":0},{"r":19,"m":6,"v":0},{"r":20,"m":6,"v":0},{"r":21,"m":6,"v":0},{"r":22,"m":6,"v":0},{"r":23,"m":6,"v":0},{"r":24,"m":6,"v":0},{"r":25,"m":6,"v":0},{"r":26,"m":6,"v":0},{"r":27,"m":6,"v":0},{"r":28,"m":6,"v":0},{"r":29,"m":6,"v":0},{"r":30,"m":6,"v":0},
{"r":1,"m":5.5,"v":0.4},{"r":2,"m":5.5,"v":0.25},{"r":3,"m":5.5,"v":0.45},{"r":4,"m":5.5,"v":0.42},{"r":5,"m":5.5,"v":0.25},{"r":6,"m":5.5,"v":0.15},{"r":7,"m":5.5,"v":0.45},{"r":8,"m":5.5,"v":0.15},{"r":9,"m":5.5,"v":0.1},{"r":10,"m":5.5,"v":0.05},{"r":11,"m":5.5,"v":0},{"r":12,"m":5.5,"v":0},{"r":13,"m":5.5,"v":0},{"r":14,"m":5.5,"v":0},{"r":15,"m":5.5,"v":0},{"r":16,"m":5.5,"v":0},{"r":17,"m":5.5,"v":0},{"r":18,"m":5.5,"v":0},{"r":19,"m":5.5,"v":0},{"r":20,"m":5.5,"v":0},{"r":21,"m":5.5,"v":0},{"r":22,"m":5.5,"v":0},{"r":23,"m":5.5,"v":0},{"r":24,"m":5.5,"v":0},{"r":25,"m":5.5,"v":0},{"r":26,"m":5.5,"v":0},{"r":27,"m":5.5,"v":0},{"r":28,"m":5.5,"v":0},{"r":29,"m":5.5,"v":0},{"r":30,"m":5.5,"v":0},
{"r":1,"m":5,"v":0.65},{"r":2,"m":5,"v":0.38},{"r":3,"m":5,"v":0.45},{"r":4,"m":5,"v":0.48},{"r":5,"m":5,"v":0.25},{"r":6,"m":5,"v":0.22},{"r":7,"m":5,"v":0.4},{"r":8,"m":5,"v":0.4},{"r":9,"m":5,"v":0.05},{"r":10,"m":5,"v":0.2},{"r":11,"m":5,"v":0},{"r":12,"m":5,"v":0},{"r":13,"m":5,"v":0},{"r":14,"m":5,"v":0},{"r":15,"m":5,"v":0},{"r":16,"m":5,"v":0},{"r":17,"m":5,"v":0},{"r":18,"m":5,"v":0},{"r":19,"m":5,"v":0},{"r":20,"m":5,"v":0},{"r":21,"m":5,"v":0},{"r":22,"m":5,"v":0},{"r":23,"m":5,"v":0},{"r":24,"m":5,"v":0},{"r":25,"m":5,"v":0},{"r":26,"m":5,"v":0},{"r":27,"m":5,"v":0},{"r":28,"m":5,"v":0},{"r":29,"m":5,"v":0},{"r":30,"m":5,"v":0},
{"r":1,"m":4.5,"v":0.35},{"r":2,"m":4.5,"v":0.4},{"r":3,"m":4.5,"v":0.25},{"r":4,"m":4.5,"v":0.25},{"r":5,"m":4.5,"v":0.3},{"r":6,"m":4.5,"v":0.25},{"r":7,"m":4.5,"v":0.03},{"r":8,"m":4.5,"v":0.1},{"r":9,"m":4.5,"v":0},{"r":10,"m":4.5,"v":0},{"r":11,"m":4.5,"v":0.12},{"r":12,"m":4.5,"v":0},{"r":13,"m":4.5,"v":0},{"r":14,"m":4.5,"v":0},{"r":15,"m":4.5,"v":0},{"r":16,"m":4.5,"v":0},{"r":17,"m":4.5,"v":0},{"r":18,"m":4.5,"v":0},{"r":19,"m":4.5,"v":0},{"r":20,"m":4.5,"v":0},{"r":21,"m":4.5,"v":0},{"r":22,"m":4.5,"v":0},{"r":23,"m":4.5,"v":0},{"r":24,"m":4.5,"v":0},{"r":25,"m":4.5,"v":0},{"r":26,"m":4.5,"v":0},{"r":27,"m":4.5,"v":0},{"r":28,"m":4.5,"v":0},{"r":29,"m":4.5,"v":0},{"r":30,"m":4.5,"v":0},
{"r":1,"m":4,"v":0.42},{"r":2,"m":4,"v":0.3},{"r":3,"m":4,"v":0.25},{"r":4,"m":4,"v":0.02},{"r":5,"m":4,"v":0.2},{"r":6,"m":4,"v":0.1},{"r":7,"m":4,"v":0.05},{"r":8,"m":4,"v":0},{"r":9,"m":4,"v":0},{"r":10,"m":4,"v":0},{"r":11,"m":4,"v":0},{"r":12,"m":4,"v":0},{"r":13,"m":4,"v":0},{"r":14,"m":4,"v":0},{"r":15,"m":4,"v":0},{"r":16,"m":4,"v":0},{"r":17,"m":4,"v":0},{"r":18,"m":4,"v":0},{"r":19,"m":4,"v":0},{"r":20,"m":4,"v":0},{"r":21,"m":4,"v":0},{"r":22,"m":4,"v":0},{"r":23,"m":4,"v":0},{"r":24,"m":4,"v":0},{"r":25,"m":4,"v":0},{"r":26,"m":4,"v":0},{"r":27,"m":4,"v":0},{"r":28,"m":4,"v":0},{"r":29,"m":4,"v":0},{"r":30,"m":4,"v":0},
{"r":1,"m":3.5,"v":0.42},{"r":2,"m":3.5,"v":0.3},{"r":3,"m":3.5,"v":0.12},{"r":4,"m":3.5,"v":0.12},{"r":5,"m":3.5,"v":0.12},{"r":6,"m":3.5,"v":0},{"r":7,"m":3.5,"v":0.12},{"r":8,"m":3.5,"v":0},{"r":9,"m":3.5,"v":0},{"r":10,"m":3.5,"v":0},{"r":11,"m":3.5,"v":0},{"r":12,"m":3.5,"v":0},{"r":13,"m":3.5,"v":0},{"r":14,"m":3.5,"v":0},{"r":15,"m":3.5,"v":0},{"r":16,"m":3.5,"v":0},{"r":17,"m":3.5,"v":0},{"r":18,"m":3.5,"v":0},{"r":19,"m":3.5,"v":0},{"r":20,"m":3.5,"v":0},{"r":21,"m":3.5,"v":0},{"r":22,"m":3.5,"v":0},{"r":23,"m":3.5,"v":0},{"r":24,"m":3.5,"v":0},{"r":25,"m":3.5,"v":0},{"r":26,"m":3.5,"v":0},{"r":27,"m":3.5,"v":0},{"r":28,"m":3.5,"v":0},{"r":29,"m":3.5,"v":0},{"r":30,"m":3.5,"v":0},
{"r":1,"m":3,"v":0.42},{"r":2,"m":3,"v":0.3},{"r":3,"m":3,"v":0.12},{"r":4,"m":3,"v":0.25},{"r":5,"m":3,"v":0.48},{"r":6,"m":3,"v":0},{"r":7,"m":3,"v":0},{"r":8,"m":3,"v":0},{"r":9,"m":3,"v":0},{"r":10,"m":3,"v":0},{"r":11,"m":3,"v":0},{"r":12,"m":3,"v":0},{"r":13,"m":3,"v":0},{"r":14,"m":3,"v":0},{"r":15,"m":3,"v":0},{"r":16,"m":3,"v":0},{"r":17,"m":3,"v":0},{"r":18,"m":3,"v":0},{"r":19,"m":3,"v":0},{"r":20,"m":3,"v":0},{"r":21,"m":3,"v":0},{"r":22,"m":3,"v":0},{"r":23,"m":3,"v":0},{"r":24,"m":3,"v":0},{"r":25,"m":3,"v":0},{"r":26,"m":3,"v":0},{"r":27,"m":3,"v":0},{"r":28,"m":3,"v":0},{"r":29,"m":3,"v":0},{"r":30,"m":3,"v":0},
{"r":1,"m":2.5,"v":0.1},{"r":2,"m":2.5,"v":0},{"r":3,"m":2.5,"v":0},{"r":4,"m":2.5,"v":0},{"r":5,"m":2.5,"v":0},{"r":6,"m":2.5,"v":0},{"r":7,"m":2.5,"v":0},{"r":8,"m":2.5,"v":0},{"r":9,"m":2.5,"v":0},{"r":10,"m":2.5,"v":0},{"r":11,"m":2.5,"v":0},{"r":12,"m":2.5,"v":0},{"r":13,"m":2.5,"v":0},{"r":14,"m":2.5,"v":0},{"r":15,"m":2.5,"v":0},{"r":16,"m":2.5,"v":0},{"r":17,"m":2.5,"v":0},{"r":18,"m":2.5,"v":0},{"r":19,"m":2.5,"v":0},{"r":20,"m":2.5,"v":0},{"r":21,"m":2.5,"v":0},{"r":22,"m":2.5,"v":0},{"r":23,"m":2.5,"v":0},{"r":24,"m":2.5,"v":0},{"r":25,"m":2.5,"v":0},{"r":26,"m":2.5,"v":0},{"r":27,"m":2.5,"v":0},{"r":28,"m":2.5,"v":0},{"r":29,"m":2.5,"v":0},{"r":30,"m":2.5,"v":0},
{"r":1,"m":2,"v":0.2},{"r":2,"m":2,"v":0},{"r":3,"m":2,"v":0},{"r":4,"m":2,"v":0},{"r":5,"m":2,"v":0},{"r":6,"m":2,"v":0},{"r":7,"m":2,"v":0},{"r":8,"m":2,"v":0},{"r":9,"m":2,"v":0},{"r":10,"m":2,"v":0},{"r":11,"m":2,"v":0},{"r":12,"m":2,"v":0},{"r":13,"m":2,"v":0},{"r":14,"m":2,"v":0},{"r":15,"m":2,"v":0},{"r":16,"m":2,"v":0},{"r":17,"m":2,"v":0},{"r":18,"m":2,"v":0},{"r":19,"m":2,"v":0},{"r":20,"m":2,"v":0},{"r":21,"m":2,"v":0},{"r":22,"m":2,"v":0},{"r":23,"m":2,"v":0},{"r":24,"m":2,"v":0},{"r":25,"m":2,"v":0},{"r":26,"m":2,"v":0},{"r":27,"m":2,"v":0},{"r":28,"m":2,"v":0},{"r":29,"m":2,"v":0},{"r":30,"m":2,"v":0},
{"r":1,"m":1.5,"v":0},{"r":2,"m":1.5,"v":0},{"r":3,"m":1.5,"v":0},{"r":4,"m":1.5,"v":0},{"r":5,"m":1.5,"v":0},{"r":6,"m":1.5,"v":0},{"r":7,"m":1.5,"v":0},{"r":8,"m":1.5,"v":0},{"r":9,"m":1.5,"v":0},{"r":10,"m":1.5,"v":0},{"r":11,"m":1.5,"v":0},{"r":12,"m":1.5,"v":0},{"r":13,"m":1.5,"v":0},{"r":14,"m":1.5,"v":0},{"r":15,"m":1.5,"v":0},{"r":16,"m":1.5,"v":0},{"r":17,"m":1.5,"v":0},{"r":18,"m":1.5,"v":0},{"r":19,"m":1.5,"v":0},{"r":20,"m":1.5,"v":0},{"r":21,"m":1.5,"v":0},{"r":22,"m":1.5,"v":0},{"r":23,"m":1.5,"v":0},{"r":24,"m":1.5,"v":0},{"r":25,"m":1.5,"v":0},{"r":26,"m":1.5,"v":0},{"r":27,"m":1.5,"v":0},{"r":28,"m":1.5,"v":0},{"r":29,"m":1.5,"v":0},{"r":30,"m":1.5,"v":0},
{"r":1,"m":1,"v":0},{"r":2,"m":1,"v":0},{"r":3,"m":1,"v":0},{"r":4,"m":1,"v":0},{"r":5,"m":1,"v":0},{"r":6,"m":1,"v":0},{"r":7,"m":1,"v":0},{"r":8,"m":1,"v":0},{"r":9,"m":1,"v":0},{"r":10,"m":1,"v":0},{"r":11,"m":1,"v":0},{"r":12,"m":1,"v":0},{"r":13,"m":1,"v":0},{"r":14,"m":1,"v":0},{"r":15,"m":1,"v":0},{"r":16,"m":1,"v":0},{"r":17,"m":1,"v":0},{"r":18,"m":1,"v":0},{"r":19,"m":1,"v":0},{"r":20,"m":1,"v":0},{"r":21,"m":1,"v":0},{"r":22,"m":1,"v":0},{"r":23,"m":1,"v":0},{"r":24,"m":1,"v":0},{"r":25,"m":1,"v":0},{"r":26,"m":1,"v":0},{"r":27,"m":1,"v":0},{"r":28,"m":1,"v":0},{"r":29,"m":1,"v":0},{"r":30,"m":1,"v":0},
{"r":1,"m":0.5,"v":0},{"r":2,"m":0.5,"v":0},{"r":3,"m":0.5,"v":0},{"r":4,"m":0.5,"v":0},{"r":5,"m":0.5,"v":0},{"r":6,"m":0.5,"v":0},{"r":7,"m":0.5,"v":0},{"r":8,"m":0.5,"v":0},{"r":9,"m":0.5,"v":0},{"r":10,"m":0.5,"v":0},{"r":11,"m":0.5,"v":0},{"r":12,"m":0.5,"v":0},{"r":13,"m":0.5,"v":0},{"r":14,"m":0.5,"v":0},{"r":15,"m":0.5,"v":0},{"r":16,"m":0.5,"v":0},{"r":17,"m":0.5,"v":0},{"r":18,"m":0.5,"v":0},{"r":19,"m":0.5,"v":0},{"r":20,"m":0.5,"v":0},{"r":21,"m":0.5,"v":0},{"r":22,"m":0.5,"v":0},{"r":23,"m":0.5,"v":0},{"r":24,"m":0.5,"v":0},{"r":25,"m":0.5,"v":0},{"r":26,"m":0.5,"v":0},{"r":27,"m":0.5,"v":0},{"r":28,"m":0.5,"v":0},{"r":29,"m":0.5,"v":0},{"r":30,"m":0.5,"v":0}
]},
"transform":[{"calculate":"1+(datum.r-1)*29/30","as":"x0"},{"calculate":"1+datum.r*29/30+0.05","as":"x1"},{"calculate":"0.5+(datum.m*2-1)*0.49","as":"y0"},{"calculate":"0.5+datum.m*2*0.49+0.05","as":"y1"}],
"mark":{"type":"rect","clip":true},
"encoding":{
"x":{"field":"x0","type":"quantitative","scale":{"domain":[1,30],"nice":false,"zero":false},"axis":{"values":[6,12,18,24,30],"title":"r","grid":false,"labelFont":"DejaVu Sans","labelFontSize":12.7,"labelColor":"#222","titleFont":"DejaVu Sans","titleFontSize":12.7,"titleFontWeight":"normal","titleColor":"#222","tickColor":"#444","domainColor":"#555","tickSize":4,"labelPadding":3,"titlePadding":5,"labelFlush":false}},
"x2":{"field":"x1"},
"y":{"field":"y0","type":"quantitative","scale":{"domain":[0.5,25],"nice":false,"zero":false},"axis":{"values":[5,10,15,20,25],"title":"number of measurements [10³]","grid":false,"labelFont":"DejaVu Sans","labelFontSize":12.7,"labelColor":"#222","titleFont":"DejaVu Sans","titleFontSize":13.3,"titleFontWeight":"normal","titleColor":"#222","tickColor":"#444","domainColor":"#555","tickSize":4,"labelPadding":3,"titlePadding":9}},
"y2":{"field":"y1"},
"color":{"field":"v","type":"quantitative","scale":{"domain":[0,1],"scheme":"redyellowgreen"},"legend":{"orient":"none","legendX":327,"legendY":0,"title":null,"direction":"vertical","gradientLength":226,"gradientThickness":17,"tickCount":6,"format":".1f","labelFont":"DejaVu Sans","labelFontSize":12.7,"labelColor":"#222","labelOffset":8,"gradientStrokeColor":"#555","gradientStrokeWidth":1}}
}}
